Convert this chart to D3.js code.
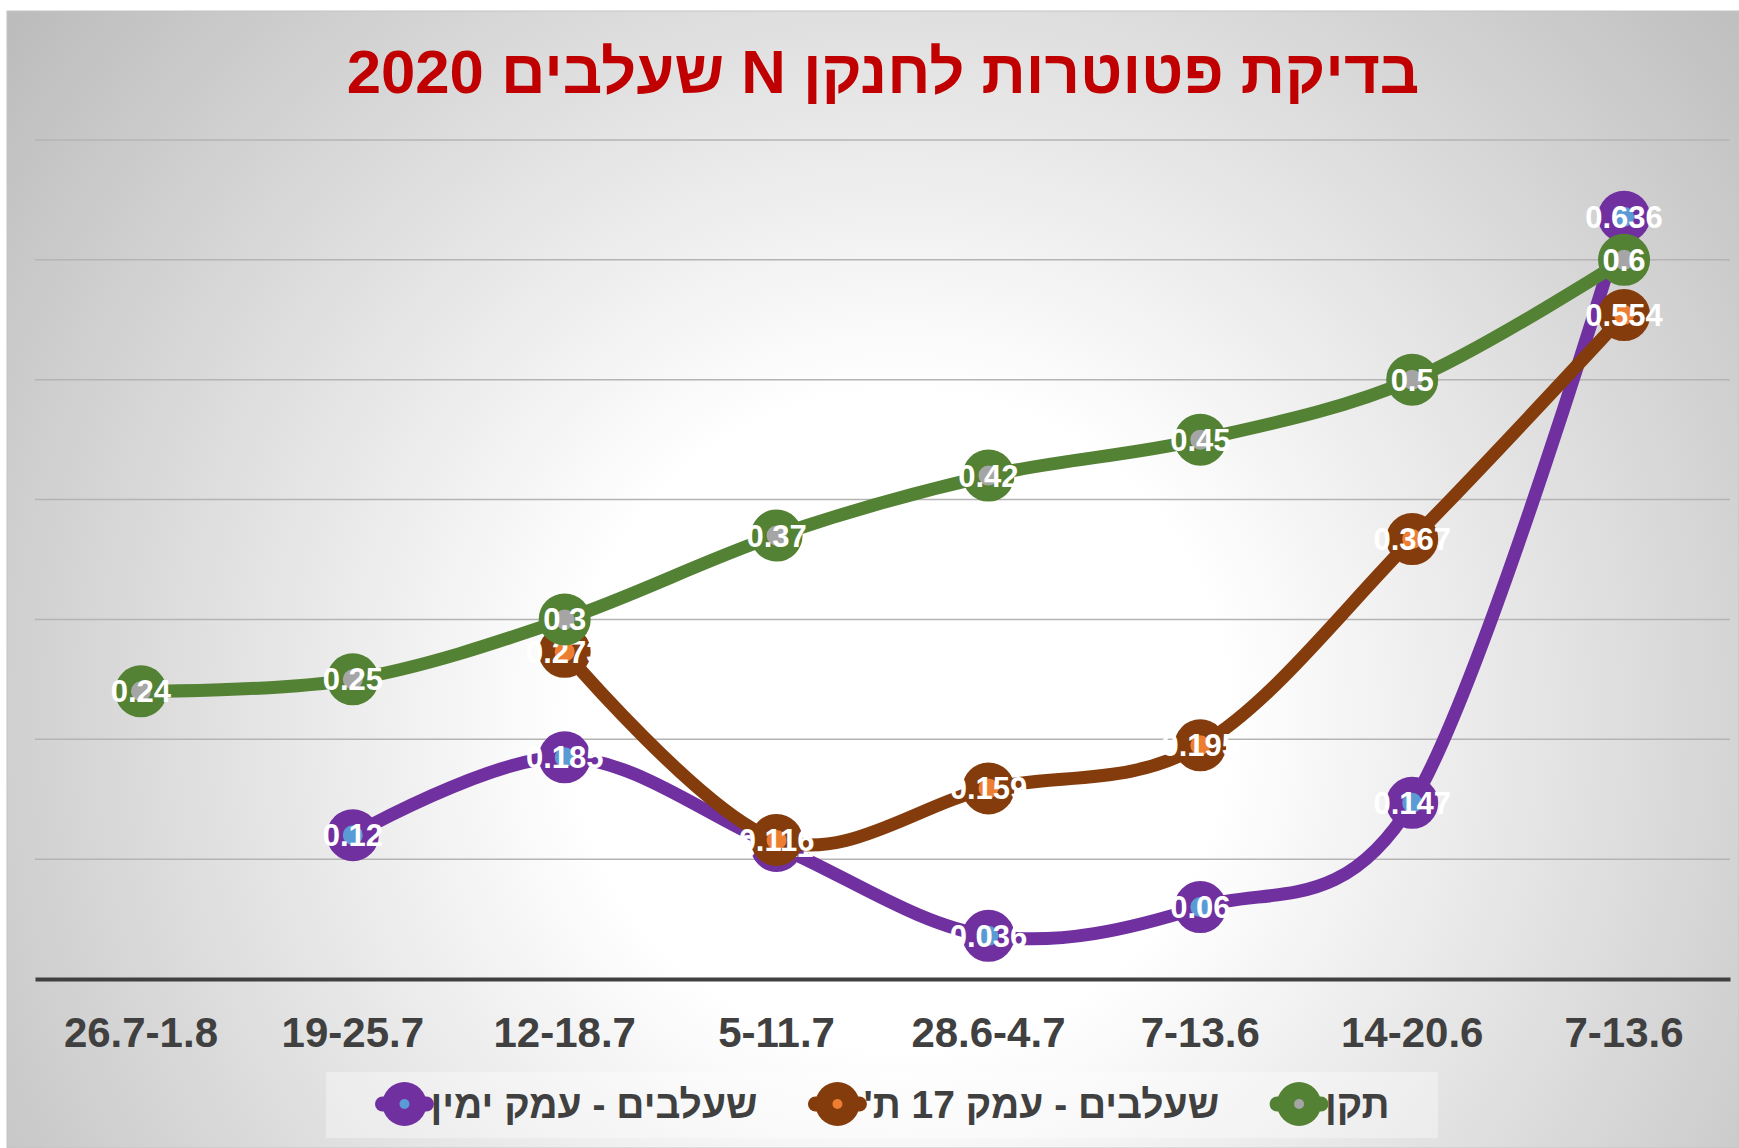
<!DOCTYPE html>
<html>
<head>
<meta charset="utf-8">
<script src="https://cdn.jsdelivr.net/npm/d3@7"></script>
<style>
  body { margin: 0; background: #fff; }
  svg { display: block; font-family: "Liberation Sans", Arial, sans-serif; }
</style>
</head>
<body>
<svg width="1739" height="1148"></svg>
<script>
// values
var categories = ["26.7-1.8", "19-25.7", "12-18.7", "5-11.7", "28.6-4.7", "7-13.6", "14-20.6", "7-13.6"];
var seriesNames = ["שעלבים - עמק ימין", "שעלבים - עמק 17 ת'", "תקן"];
var emekYamin = [null, 0.12, 0.185, 0.111, 0.036, 0.06, 0.147, 0.636];
var emek17 = [null, null, 0.273, 0.116, 0.159, 0.195, 0.367, 0.554];
var teken = [0.24, 0.25, 0.3, 0.37, 0.42, 0.45, 0.5, 0.6];
var gridTicks = [0.1, 0.2, 0.3, 0.4, 0.5, 0.6, 0.7];

var lineColors = ["#7030a0", "#843c0c", "#548235"];
var dotColors = ["#5b9bd5", "#ed7d31", "#a5a5a5"];

var series = [emekYamin, emek17, teken].map(function(vals, i) {
  return {
    name: seriesNames[i],
    color: lineColors[i],
    dot: dotColors[i],
    points: vals.map(function(v, j) { return { i: j, v: v }; })
  };
});

var svg = d3.select("svg"),
  width = +svg.attr("width"),
  height = +svg.attr("height");

// plot box (note: "top" is taken by window.top)
var plotLeft = 35, plotRight = 1730, plotTop = 140, plotBottom = 979;

// background
var defs = svg.append("defs");
var grad = defs.append("radialGradient")
  .attr("id", "bg")
  .attr("gradientUnits", "userSpaceOnUse")
  .attr("cx", 900).attr("cy", 720).attr("r", 1130);
grad.append("stop").attr("offset", "0").attr("stop-color", "#ffffff");
grad.append("stop").attr("offset", "0.29").attr("stop-color", "#ffffff");
grad.append("stop").attr("offset", "1").attr("stop-color", "#bcbcbc");

svg.append("rect")
  .attr("x", 7).attr("y", 11)
  .attr("width", width - 7).attr("height", height - 11)
  .attr("fill", "url(#bg)")
  .attr("stroke", "#c4c4c4");

var x = d3.scaleBand()
  .domain(d3.range(categories.length))
  .range([plotLeft, plotRight])
  .padding(0);

var y = d3.scaleLinear().domain([0, 0.7]).range([plotBottom, plotTop]);

function cx(d) { return x(d.i) + x.bandwidth() / 2; }

// gridlines
svg.append("g")
  .attr("class", "grid")
  .selectAll("line")
  .data(gridTicks)
  .enter()
  .append("line")
  .attr("x1", plotLeft).attr("x2", plotRight)
  .attr("y1", function(d) { return y(d); })
  .attr("y2", function(d) { return y(d); })
  .attr("stroke", "#b4b4b4")
  .attr("stroke-width", 1.5);

// x axis
var xAxis = svg.append("g")
  .attr("transform", "translate(0," + plotBottom + ")")
  .call(d3.axisBottom(x).tickSize(0).tickSizeOuter(0).tickFormat(function(i) { return categories[i]; }));
xAxis.select(".domain").attr("stroke", "#404040").attr("stroke-width", 4);
xAxis.selectAll("text")
  .attr("y", 68).attr("dy", 0)
  .attr("fill", "#404040")
  .style("font-size", "42px")
  .style("font-weight", "bold")
  .style("font-family", "'Liberation Sans', Arial, sans-serif");

// series: line, markers, labels drawn per series so later ones sit on top
var line = d3.line()
  .x(cx)
  .y(function(d) { return y(d.v); })
  .curve(d3.curveCatmullRom.alpha(0));

var sg = svg.append("g").selectAll("g.series")
  .data(series)
  .enter()
  .append("g")
  .attr("class", "series");

sg.each(function(s) {
  var g = d3.select(this);
  var pts = s.points.filter(function(p) { return p.v != null; });
  g.append("path")
    .attr("fill", "none")
    .attr("stroke", s.color)
    .attr("stroke-width", 13)
    .attr("stroke-linecap", "round")
    .attr("stroke-linejoin", "round")
    .attr("d", line(pts));
  g.selectAll("circle.mk")
    .data(pts)
    .enter()
    .append("circle")
    .attr("class", "mk")
    .attr("cx", cx)
    .attr("cy", function(d) { return y(d.v); })
    .attr("r", 18)
    .attr("fill", s.dot)
    .attr("stroke", s.color)
    .attr("stroke-width", 16);
  g.selectAll("text.lbl")
    .data(pts)
    .enter()
    .append("text")
    .attr("class", "lbl")
    .attr("x", cx)
    .attr("y", function(d) { return y(d.v) + 11; })
    .attr("text-anchor", "middle")
    .attr("fill", "#fff")
    .style("font-size", "31px")
    .style("font-weight", "bold")
    .text(function(d) { return d.v; });
});

// title
var title = svg.append("text")
  .attr("direction", "rtl")
  .attr("text-anchor", "middle")
  .attr("fill", "#c00000")
  .style("font-size", "61px")
  .style("font-weight", "bold")
  .text("בדיקת פטוטרות לחנקן N שעלבים 2020");
var tw = title.node().getComputedTextLength();
title.attr("transform", "translate(883,93) scale(" + (1073 / tw) + ",1)");

// legend
svg.append("rect")
  .attr("x", 326).attr("y", 1072)
  .attr("width", 1112).attr("height", 66)
  .attr("fill", "#ffffff")
  .attr("fill-opacity", 0.35);

var lg = svg.append("g");
var items = series.map(function(s) {
  var t = lg.append("text")
    .attr("direction", "rtl")
    .attr("text-anchor", "middle")
    .attr("fill", "#404040")
    .style("font-size", "39px")
    .style("font-weight", "bold")
    .text(s.name);
  return { s: s, t: t, w: t.node().getComputedTextLength() };
});
var total = d3.sum(items, function(it) { return 56 + it.w; }) + 50 * (items.length - 1);
var pos = 882 - total / 2;
items.forEach(function(it) {
  var mx = pos + 30;
  lg.append("line")
    .attr("x1", mx - 22).attr("x2", mx + 22)
    .attr("y1", 1104).attr("y2", 1104)
    .attr("stroke", it.s.color)
    .attr("stroke-width", 15)
    .attr("stroke-linecap", "round");
  lg.append("circle").attr("cx", mx).attr("cy", 1104).attr("r", 22).attr("fill", it.s.color);
  lg.append("circle").attr("cx", mx).attr("cy", 1104).attr("r", 5).attr("fill", it.s.dot);
  it.t.attr("x", pos + 56 + it.w / 2).attr("y", 1118);
  pos += 56 + it.w + 50;
});
</script>
</body>
</html>
